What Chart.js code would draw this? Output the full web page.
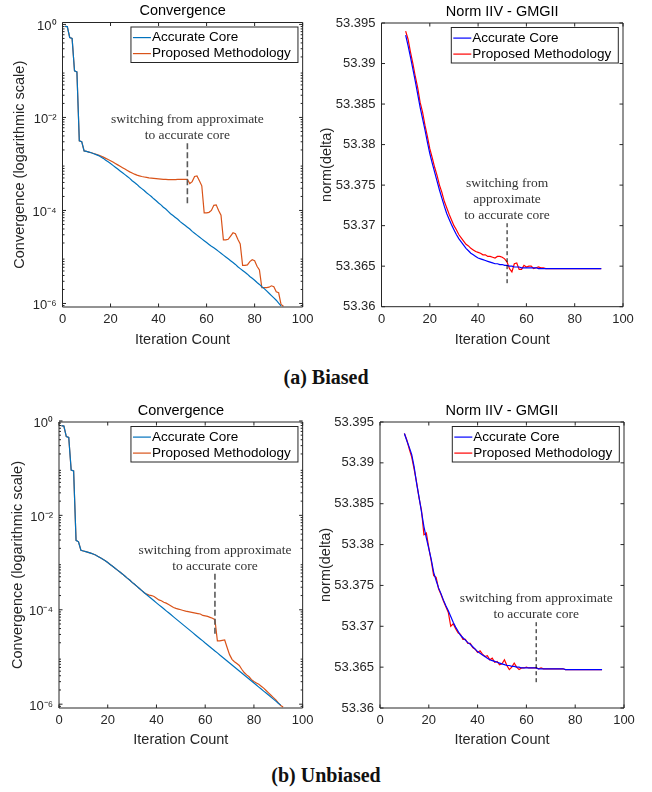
<!DOCTYPE html>
<html>
<head>
<meta charset="utf-8">
<script src="https://cdn.jsdelivr.net/npm/chart.js@4.4.1/dist/chart.umd.min.js"></script>
<style>
  body { margin: 0; background: #fff; width: 652px; height: 792px; position: relative; overflow: hidden; }
  canvas { position: absolute; }
  .cap { position: absolute; left: 0; width: 652px; text-align: center; line-height: 24px;
         font: bold 20px "Liberation Serif", "Times New Roman", serif; color: #111; }
</style>
</head>
<body>
<canvas id="tl" width="318" height="360" style="left:0;top:0"></canvas>
<canvas id="tr" width="336" height="360" style="left:316px;top:0"></canvas>
<canvas id="bl" width="318" height="360" style="left:0;top:399px"></canvas>
<canvas id="br" width="336" height="360" style="left:316px;top:399px"></canvas>
<div class="cap" style="top:366px">(a) Biased</div>
<div class="cap" style="top:764px">(b) Unbiased</div>
<script>
const FONT = '"Liberation Sans", Arial, Helvetica, sans-serif';
const SERIF = '"Liberation Serif", "Times New Roman", serif';
const INK = '#262626';

// axes
const xTicks = [0, 20, 40, 60, 80, 100];
const logTicks = [1e-6, 1e-4, 1e-2, 1];
const logTickLabels = ['10⁻⁶', '10⁻⁴', '10⁻²', '10⁰'];
const normTicks = [53.36, 53.365, 53.37, 53.375, 53.38, 53.385, 53.39, 53.395];
const normTickLabels = ['53.36', '53.365', '53.37', '53.375', '53.38', '53.385', '53.39', '53.395'];
const seriesNames = ['Accurate Core', 'Proposed Methodology'];

// first iteration of each series
const convStart = 1;
const normStart = 10;

// iteration where the approximate core is switched off
const switchBiased = 52;
const switchUnbiased = 64;

// (a) biased - convergence, iterations 1..
const biasedConvAccurate = [
  0.91, 0.90, 0.525, 0.501, 0.100, 0.0955, 3.16e-3, 3.02e-3, 1.905e-3, 1.862e-3,
  1.80e-3, 1.738e-3, 1.66e-3, 1.585e-3, 1.514e-3, 1.413e-3, 1.318e-3, 1.202e-3, 1.109e-3, 1.023e-3,
  9.33e-4, 8.51e-4, 7.76e-4, 7.08e-4, 6.46e-4, 5.89e-4, 5.37e-4, 4.90e-4, 4.37e-4, 3.98e-4,
  3.63e-4, 3.24e-4, 2.95e-4, 2.69e-4, 2.40e-4, 2.19e-4, 2.00e-4, 1.78e-4, 1.62e-4, 1.445e-4,
  1.318e-4, 1.175e-4, 1.072e-4, 9.55e-5, 8.51e-5, 7.76e-5, 7.08e-5, 6.46e-5, 5.75e-5, 5.25e-5,
  4.79e-5, 4.37e-5, 3.98e-5, 3.55e-5, 3.24e-5, 2.95e-5, 2.69e-5, 2.45e-5, 2.24e-5, 2.04e-5,
  1.86e-5, 1.70e-5, 1.585e-5, 1.445e-5, 1.318e-5, 1.202e-5, 1.096e-5, 1.00e-5, 9.12e-6, 8.32e-6,
  7.59e-6, 6.92e-6, 6.17e-6, 5.62e-6, 5.13e-6, 4.68e-6, 4.27e-6, 3.80e-6, 3.47e-6, 3.16e-6,
  2.82e-6, 2.57e-6, 2.29e-6, 2.09e-6, 1.86e-6, 1.66e-6, 1.48e-6, 1.32e-6, 1.175e-6, 1.023e-6, 8.91e-7
];
const biasedConvProposed = [
  0.91, 0.90, 0.525, 0.501, 0.100, 0.0955, 3.16e-3, 3.02e-3, 1.905e-3, 1.862e-3,
  1.80e-3, 1.738e-3, 1.68e-3, 1.62e-3, 1.55e-3, 1.48e-3, 1.40e-3, 1.32e-3, 1.245e-3, 1.175e-3,
  1.096e-3, 1.023e-3, 9.55e-4, 8.91e-4, 8.32e-4, 7.76e-4, 7.24e-4, 6.76e-4, 6.38e-4, 6.03e-4,
  5.75e-4, 5.56e-4, 5.37e-4, 5.25e-4, 5.13e-4, 5.01e-4, 4.95e-4, 4.90e-4, 4.84e-4, 4.79e-4,
  4.73e-4, 4.68e-4, 4.68e-4, 4.62e-4, 4.62e-4, 4.62e-4, 4.62e-4, 4.68e-4, 4.68e-4, 4.68e-4,
  4.68e-4, 4.68e-4, 3.80e-4, 4.17e-4, 5.37e-4, 5.50e-4, 4.37e-4, 3.39e-4, 8.91e-5, 8.91e-5,
  9.12e-5, 1.0e-4, 1.29e-4, 1.32e-4, 1.0e-4, 7.94e-5, 2.34e-5, 2.34e-5, 2.40e-5, 2.82e-5,
  3.31e-5, 3.16e-5, 2.40e-5, 1.905e-5, 6.61e-6, 6.61e-6, 6.76e-6, 7.94e-6, 8.71e-6, 8.32e-6,
  6.31e-6, 5.25e-6, 2.19e-6, 2.19e-6, 2.19e-6, 2.24e-6, 2.40e-6, 2.29e-6, 1.78e-6, 1.70e-6, 9.55e-7, 8.71e-7
];

// (a) biased - norm, iterations 10..
const biasedNormAccurate = [
  53.3935, 53.3922, 53.3908, 53.3893, 53.3878, 53.3862, 53.3846, 53.3832, 53.3818, 53.3803,
  53.3789, 53.3777, 53.3766, 53.3755, 53.3744, 53.3734, 53.3724, 53.3715, 53.3708, 53.3701,
  53.3695, 53.3689, 53.3684, 53.3680, 53.3676, 53.3672, 53.3669, 53.3666, 53.3664, 53.3662,
  53.3660, 53.3659, 53.3658, 53.3657, 53.3656, 53.3655, 53.3654, 53.3653, 53.3653, 53.3652,
  53.3652, 53.3651, 53.3651, 53.3650, 53.3650, 53.3649, 53.3649, 53.3649, 53.3648, 53.3648,
  53.3648, 53.3648, 53.3648, 53.3648, 53.3648, 53.3647, 53.3647, 53.3647, 53.3647, 53.3647,
  53.3647, 53.3647, 53.3647, 53.3647, 53.3647, 53.3647, 53.3647, 53.3647, 53.3647, 53.3647,
  53.3647, 53.3647, 53.3647, 53.3647, 53.3647, 53.3647, 53.3647, 53.3647, 53.3647, 53.3647,
  53.3647, 53.3647
];
const biasedNormProposed = [
  53.3940, 53.3930, 53.3914, 53.3900, 53.3884, 53.3870, 53.3852, 53.3840, 53.3824, 53.3810,
  53.3795, 53.3784, 53.3772, 53.3762, 53.3750, 53.3741, 53.3730, 53.3722, 53.3714, 53.3707,
  53.3700, 53.3695, 53.3689, 53.3685, 53.3681, 53.3677, 53.3675, 53.3672, 53.3670, 53.3668,
  53.3667, 53.3666, 53.3664, 53.3664, 53.3662, 53.3662, 53.3661, 53.3660, 53.3662, 53.3662,
  53.3661, 53.3659, 53.3655, 53.3647, 53.3643, 53.3653, 53.3654, 53.3646, 53.3646, 53.3651,
  53.3649, 53.3650, 53.3650, 53.3647, 53.3648, 53.3649, 53.3648, 53.3648, 53.3647, 53.3647,
  53.3647, 53.3647, 53.3647, 53.3647, 53.3647, 53.3647, 53.3647, 53.3647, 53.3647, 53.3647,
  53.3647, 53.3647, 53.3647, 53.3647, 53.3647, 53.3647, 53.3647, 53.3647, 53.3647, 53.3647,
  53.3647, 53.3647
];

// (b) unbiased - convergence, iterations 1..
const unbiasedConvAccurate = [
  0.794, 0.78, 0.468, 0.447, 0.0912, 0.0871, 2.95e-3, 2.75e-3, 1.82e-3, 1.76e-3,
  1.70e-3, 1.64e-3, 1.585e-3, 1.514e-3, 1.445e-3, 1.35e-3, 1.26e-3, 1.175e-3, 1.096e-3, 1.0e-3,
  9.12e-4, 8.32e-4, 7.59e-4, 6.92e-4, 6.31e-4, 5.75e-4, 5.19e-4, 4.68e-4, 4.27e-4, 3.80e-4,
  3.47e-4, 3.13e-4, 2.82e-4, 2.54e-4, 2.29e-4, 2.08e-4, 1.88e-4, 1.71e-4, 1.55e-4, 1.40e-4,
  1.27e-4, 1.155e-4, 1.047e-4, 9.49e-5, 8.61e-5, 7.81e-5, 7.08e-5, 6.42e-5, 5.82e-5, 5.28e-5,
  4.79e-5, 4.34e-5, 3.94e-5, 3.57e-5, 3.24e-5, 2.93e-5, 2.66e-5, 2.41e-5, 2.19e-5, 1.98e-5,
  1.80e-5, 1.63e-5, 1.48e-5, 1.34e-5, 1.22e-5, 1.10e-5, 1.0e-5, 9.07e-6, 8.22e-6, 7.46e-6,
  6.76e-6, 6.13e-6, 5.56e-6, 5.04e-6, 4.57e-6, 4.15e-6, 3.76e-6, 3.41e-6, 3.09e-6, 2.80e-6,
  2.54e-6, 2.30e-6, 2.09e-6, 1.89e-6, 1.72e-6, 1.56e-6, 1.41e-6, 1.28e-6, 1.16e-6, 1.05e-6, 9.55e-7
];
const unbiasedConvProposed = [
  0.794, 0.78, 0.468, 0.447, 0.0912, 0.0871, 2.95e-3, 2.75e-3, 1.82e-3, 1.76e-3,
  1.70e-3, 1.64e-3, 1.585e-3, 1.514e-3, 1.445e-3, 1.35e-3, 1.26e-3, 1.175e-3, 1.096e-3, 1.0e-3,
  9.12e-4, 8.32e-4, 7.59e-4, 6.92e-4, 6.31e-4, 5.75e-4, 5.19e-4, 4.68e-4, 4.27e-4, 3.80e-4,
  3.47e-4, 3.13e-4, 2.82e-4, 2.54e-4, 2.29e-4, 2.14e-4, 2.04e-4, 2.00e-4, 1.905e-4, 1.76e-4,
  1.62e-4, 1.55e-4, 1.445e-4, 1.38e-4, 1.29e-4, 1.20e-4, 1.12e-4, 1.07e-4, 1.035e-4, 1.0e-4,
  9.66e-5, 9.33e-5, 9.12e-5, 8.91e-5, 8.71e-5, 8.51e-5, 8.32e-5, 8.13e-5, 7.59e-5, 7.41e-5,
  7.24e-5, 6.92e-5, 6.61e-5, 6.17e-5, 2.19e-5, 2.19e-5, 2.24e-5, 2.29e-5, 1.585e-5, 1.12e-5,
  8.91e-6, 7.94e-6, 7.24e-6, 6.61e-6, 5.50e-6, 4.68e-6, 4.17e-6, 3.80e-6, 3.31e-6, 3.02e-6,
  2.82e-6, 2.63e-6, 2.40e-6, 2.19e-6, 1.95e-6, 1.74e-6, 1.55e-6, 1.38e-6, 1.23e-6, 1.07e-6, 9.33e-7, 8.71e-7
];

// (b) unbiased - norm, iterations 10..
const unbiasedNormAccurate = [
  53.3936, 53.3927, 53.3919, 53.3910, 53.3895, 53.3875, 53.3858, 53.3840, 53.3822, 53.3808,
  53.3795, 53.3782, 53.3766, 53.3756, 53.3747, 53.3740, 53.3732, 53.3725, 53.3719, 53.3712,
  53.3705, 53.3699, 53.3694, 53.3689, 53.3686, 53.3683, 53.3680, 53.3678, 53.3675, 53.3672,
  53.3669, 53.3667, 53.3665, 53.3663, 53.3661, 53.3659, 53.3658, 53.3657, 53.3656, 53.3655,
  53.3654, 53.3653, 53.3652, 53.3652, 53.3651, 53.3651, 53.3650, 53.3650, 53.3649, 53.3649,
  53.3649, 53.3649, 53.3649, 53.3649, 53.3649, 53.3648, 53.3648, 53.3648, 53.3648, 53.3648,
  53.3648, 53.3648, 53.3648, 53.3648, 53.3648, 53.3648, 53.3647, 53.3647, 53.3647, 53.3647,
  53.3647, 53.3647, 53.3647, 53.3647, 53.3647, 53.3647, 53.3647, 53.3647, 53.3647, 53.3647,
  53.3647, 53.3647
];
const unbiasedNormProposed = [
  53.3936, 53.3928, 53.3917, 53.3907, 53.3892, 53.3876, 53.3857, 53.3842, 53.3812, 53.3814,
  53.3796, 53.3780, 53.3762, 53.3760, 53.3746, 53.3739, 53.3731, 53.3724, 53.3717, 53.3700,
  53.3703, 53.3697, 53.3692, 53.3690, 53.3684, 53.3684, 53.3679, 53.3679, 53.3674, 53.3672,
  53.3668, 53.3670, 53.3666, 53.3663, 53.3664, 53.3659, 53.3661, 53.3656, 53.3657, 53.3653,
  53.3654, 53.3659, 53.3652, 53.3647, 53.3650, 53.3655, 53.3650, 53.3647, 53.3649, 53.3649,
  53.3650, 53.3649, 53.3649, 53.3649, 53.3649, 53.3648, 53.3649, 53.3648, 53.3648, 53.3648,
  53.3648, 53.3648, 53.3648, 53.3648, 53.3648, 53.3648, 53.3647, 53.3647, 53.3647, 53.3647,
  53.3647, 53.3647, 53.3647, 53.3647, 53.3647, 53.3647, 53.3647, 53.3647, 53.3647, 53.3647,
  53.3647, 53.3647
];

const toPoints = (start, values) => values.map((v, i) => ({ x: start + i, y: v }));

// inward ticks, box, switch marker, note and legend, MATLAB style
const matlabAxes = {
  id: 'matlabAxes',
  afterDatasetsDraw(chart, args, o) {
    const { ctx, chartArea: a } = chart;
    const x = chart.scales.x, y = chart.scales.y;
    ctx.save();

    // dashed switch marker
    const sx = x.getPixelForValue(o.switchAt);
    const sTop = y.getPixelForValue(o.switchSpan[0]);
    ctx.beginPath();
    ctx.setLineDash(o.dash);
    ctx.strokeStyle = o.dashColor;
    ctx.lineWidth = o.dashWidth;
    ctx.moveTo(sx, sTop);
    ctx.lineTo(sx, y.getPixelForValue(o.switchSpan[1]));
    ctx.stroke();
    ctx.setLineDash([]);

    ctx.fillStyle = '#333';
    ctx.font = '13.5px ' + SERIF;
    ctx.textAlign = 'center';
    ctx.textBaseline = 'middle';
    o.note.forEach((line, i) => {
      ctx.fillText(line, sx, sTop - 7.5 - (o.note.length - 1 - i) * 16);
    });

    // box + ticks
    ctx.strokeStyle = INK;
    ctx.lineWidth = 1;
    ctx.beginPath();
    ctx.rect(a.left, a.top, a.right - a.left, a.bottom - a.top);
    xTicks.forEach(v => {
      const px = x.getPixelForValue(v);
      ctx.moveTo(px, a.bottom); ctx.lineTo(px, a.bottom - 3.5);
      ctx.moveTo(px, a.top); ctx.lineTo(px, a.top + 3.5);
    });
    y.ticks.forEach(t => {
      const py = y.getPixelForValue(t.value);
      ctx.moveTo(a.left, py); ctx.lineTo(a.left + 3.5, py);
      ctx.moveTo(a.right, py); ctx.lineTo(a.right - 3.5, py);
    });
    if (y.type === 'logarithmic') {
      for (let k = -7; k <= 0; k++) {
        for (let m = 2; m <= 9; m++) {
          const v = m * Math.pow(10, k);
          if (v < y.min || v > y.max) continue;
          const py = y.getPixelForValue(v);
          ctx.moveTo(a.left, py); ctx.lineTo(a.left + 2, py);
          ctx.moveTo(a.right, py); ctx.lineTo(a.right - 2, py);
        }
      }
    }
    ctx.stroke();

    // legend
    const [lw, lh] = o.legendSize;
    const lx = a.right - o.legendInset[0] - lw;
    const ly = a.top + o.legendInset[1];
    ctx.fillStyle = '#fff';
    ctx.fillRect(lx, ly, lw, lh);
    ctx.strokeStyle = INK;
    ctx.strokeRect(lx, ly, lw, lh);
    ctx.font = '13.5px ' + FONT;
    ctx.textAlign = 'left';
    chart.data.datasets.forEach((ds, i) => {
      const ry = ly + 10.6 + i * 16;
      ctx.strokeStyle = ds.borderColor;
      ctx.lineWidth = 1.2;
      ctx.beginPath();
      ctx.moveTo(lx + 2, ry); ctx.lineTo(lx + 20, ry);
      ctx.stroke();
      ctx.fillStyle = '#000';
      ctx.fillText(ds.label, lx + 21, ry);
    });
    ctx.restore();
  }
};

const CANVAS_H = 360;
const TITLE_BLOCK = 22.5;

function drawPanel(p) {
  const [L, T, R, B] = p.area;
  const chartLeft = L - p.left, chartTop = T - p.top;
  const chartRight = R - p.left, chartBottom = B - p.top;
  const xAxisH = CANVAS_H - chartBottom;
  const isLog = p.yType === 'logarithmic';

  new Chart(document.getElementById(p.id), {
    type: 'line',
    data: {
      datasets: [
        { label: seriesNames[0], data: toPoints(p.start, p.accurate), borderColor: p.colors[0],
          borderWidth: 1.2, pointRadius: 0, tension: 0, fill: false },
        { label: seriesNames[1], data: toPoints(p.start, p.proposed), borderColor: p.colors[1],
          borderWidth: 1.2, pointRadius: 0, tension: 0, fill: false }
      ]
    },
    options: {
      responsive: false,
      animation: false,
      devicePixelRatio: 1,
      events: [],
      layout: { padding: { left: 0, right: p.width - chartRight, top: chartTop - TITLE_BLOCK, bottom: 0 } },
      plugins: {
        legend: { display: false },
        tooltip: { enabled: false },
        title: {
          display: true, fullSize: false, text: p.title, color: '#000',
          font: { family: FONT, size: 14.5, weight: 'normal' },
          padding: { top: 2.3, bottom: 2.8 }
        },
        matlabAxes: {
          switchAt: p.switchAt, switchSpan: p.switchSpan, note: p.note,
          dash: p.dash, dashColor: p.dashColor, dashWidth: p.dashWidth,
          legendSize: [167, 35.5], legendInset: [4.7, 4.5]
        }
      },
      scales: {
        x: {
          type: 'linear', min: 0, max: 100,
          afterBuildTicks: s => { s.ticks = xTicks.map(v => ({ value: v })); },
          afterFit: s => { s.height = xAxisH; },
          grid: { display: false, drawTicks: false },
          border: { display: false },
          ticks: { autoSkip: false, maxRotation: 0, padding: 4.5, color: INK,
                   font: { family: FONT, size: 13 }, callback: v => String(v) },
          title: { display: true, text: 'Iteration Count', color: INK,
                   font: { family: FONT, size: 14.5 },
                   padding: { top: 0, bottom: xAxisH - 8.7 - p.xTitleOffset } }
        },
        y: {
          type: p.yType, min: p.yMin, max: p.yMax,
          afterBuildTicks: s => { s.ticks = p.yTicks.map(v => ({ value: v })); },
          afterFit: s => { s.width = chartLeft; },
          grid: { display: false, drawTicks: false },
          border: { display: false },
          ticks: { autoSkip: false, padding: 6, color: INK, labelOffset: isLog ? 2 : 0,
                   font: { family: FONT, size: 13 },
                   callback: (v, i) => p.yLabels[i] },
          title: { display: true, text: p.yTitle, color: INK,
                   font: { family: FONT, size: 14.5 },
                   padding: { top: p.yTitleX - 8.7, bottom: 0 } }
        }
      }
    },
    plugins: [matlabAxes]
  });
}

const convColors = ['#0072BD', '#D95319'];
const normColors = ['#0000FF', '#FF0000'];

drawPanel({
  id: 'tl', left: 0, top: 0, width: 318, area: [62.5, 22.5, 304.5, 307],
  title: 'Convergence', yTitle: 'Convergence (logarithmic scale)', yTitleX: 20, xTitleOffset: 32.6,
  yType: 'logarithmic', yMin: 8.4e-7, yMax: 1.1, yTicks: logTicks, yLabels: logTickLabels,
  start: convStart, accurate: biasedConvAccurate, proposed: biasedConvProposed, colors: convColors,
  switchAt: switchBiased, switchSpan: [2.79e-3, 1.43e-4],
  note: ['switching from approximate', 'to accurate core'],
  dash: [6, 3], dashColor: '#5a5a5a', dashWidth: 1.6
});
drawPanel({
  id: 'tr', left: 316, top: 0, width: 336, area: [381.5, 23, 623, 306.7],
  title: 'Norm IIV - GMGII', yTitle: 'norm(delta)', yTitleX: 10.7, xTitleOffset: 32.8,
  yType: 'linear', yMin: 53.36, yMax: 53.395, yTicks: normTicks, yLabels: normTickLabels,
  start: normStart, accurate: biasedNormAccurate, proposed: biasedNormProposed, colors: normColors,
  switchAt: switchBiased, switchSpan: [53.3703, 53.3629],
  note: ['switching from', 'approximate', 'to accurate core'],
  dash: [4, 3], dashColor: '#000', dashWidth: 1
});
drawPanel({
  id: 'bl', left: 0, top: 399, width: 318, area: [59, 422, 304, 708],
  title: 'Convergence', yTitle: 'Convergence (logarithmic scale)', yTitleX: 18.3, xTitleOffset: 31.6,
  yType: 'logarithmic', yMin: 8.3e-7, yMax: 0.95, yTicks: logTicks, yLabels: logTickLabels,
  start: convStart, accurate: unbiasedConvAccurate, proposed: unbiasedConvProposed, colors: convColors,
  switchAt: switchUnbiased, switchSpan: [5.8e-4, 3.1e-5],
  note: ['switching from approximate', 'to accurate core'],
  dash: [6, 3], dashColor: '#5a5a5a', dashWidth: 1.6
});
drawPanel({
  id: 'br', left: 316, top: 399, width: 336, area: [380, 422, 624, 708],
  title: 'Norm IIV - GMGII', yTitle: 'norm(delta)', yTitleX: 9.8, xTitleOffset: 31.8,
  yType: 'linear', yMin: 53.36, yMax: 53.395, yTicks: normTicks, yLabels: normTickLabels,
  start: normStart, accurate: unbiasedNormAccurate, proposed: unbiasedNormProposed, colors: normColors,
  switchAt: switchUnbiased, switchSpan: [53.3705, 53.363],
  note: ['switching from approximate', 'to accurate core'],
  dash: [4, 3], dashColor: '#000', dashWidth: 1
});
</script>
</body>
</html>
